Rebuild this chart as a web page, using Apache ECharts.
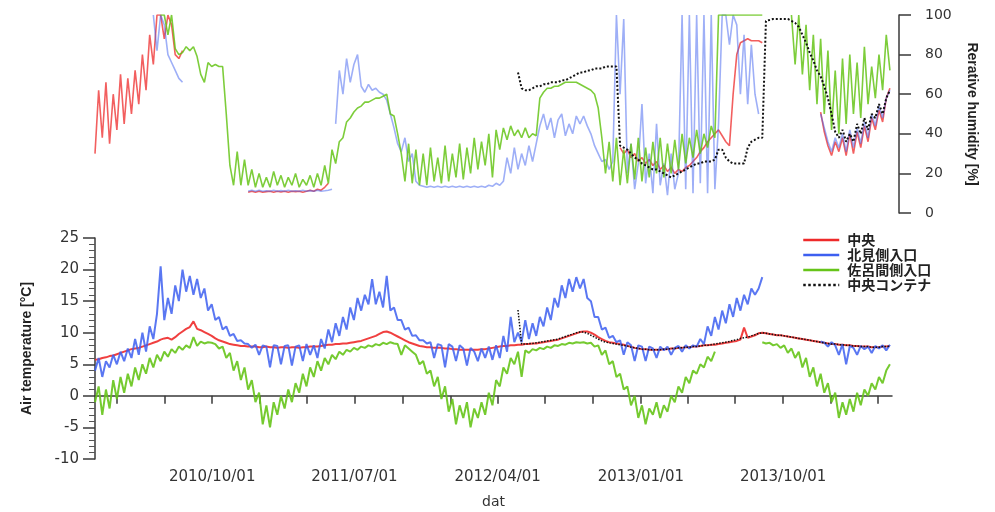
<!DOCTYPE html>
<html>
<head>
<meta charset="utf-8">
<title>Air temperature and relative humidity</title>
<script src="https://cdn.jsdelivr.net/npm/echarts@6.0.0/dist/echarts.min.js"></script>
<style>
html, body { margin: 0; padding: 0; background: #fff; }
#main { width: 995px; height: 512px; }
</style>
</head>
<body>
<div id="main"></div>
<script>
// weekly readings, week 0 = 2010/02/18
var startDate = '2010-02-18';
var endDate = '2014-04-28';
var tickDates = ['2010-04-01', '2010-07-01', '2010-10-01', '2011-01-01', '2011-04-01', '2011-07-01',
	'2011-10-01', '2012-01-01', '2012-04-01', '2012-07-01', '2012-10-01', '2013-01-01', '2013-04-01',
	'2013-07-01', '2013-10-01', '2014-01-01', '2014-04-01'];
var labelDates = ['2010-10-01', '2011-07-01', '2012-04-01', '2013-01-01', '2013-10-01'];
var names = ['中央', '北見側入口', '佐呂間側入口', '中央コンテナ'];

// air temperature [°C]
var tempRed = [ // weeks 0-218
	5.7, 5.8, 6.0, 6.1, 6.3, 6.4, 6.6, 6.8, 7.0, 7.2, 7.4, 7.5, 7.6,
	7.8, 8.0, 8.2, 8.4, 8.6, 8.9, 9.1, 9.2, 8.9, 9.3, 9.8, 10.2, 10.6,
	10.9, 11.8, 10.6, 10.4, 10.1, 9.8, 9.5, 9.1, 8.8, 8.6, 8.4, 8.2, 8.1,
	8.0, 7.9, 7.9, 7.8, 7.8, 7.8, 7.7, 7.7, 7.8, 7.7, 7.7, 7.6, 7.7,
	7.7, 7.6, 7.7, 7.7, 7.6, 7.7, 7.7, 7.8, 7.8, 7.8, 7.9, 8.0, 8.1,
	8.1, 8.2, 8.2, 8.3, 8.3, 8.4, 8.5, 8.6, 8.7, 8.9, 9.1, 9.3, 9.5,
	9.8, 10.1, 10.2, 10.0, 9.7, 9.4, 9.1, 8.8, 8.5, 8.3, 8.1, 7.9, 7.8,
	7.7, 7.7, 7.6, 7.6, 7.6, 7.5, 7.5, 7.4, 7.4, 7.3, 7.3, 7.3, 7.3,
	7.3, 7.3, 7.4, 7.4, 7.5, 7.6, 7.7, 7.8, 7.9, 7.9, 8.0, 8.0, 8.1,
	8.1, 8.2, 8.2, 8.3, 8.3, 8.4, 8.5, 8.6, 8.7, 8.8, 8.9, 9.1, 9.3,
	9.5, 9.7, 9.9, 10.1, 10.2, 10.2, 10.0, 9.7, 9.3, 9.0, 8.7, 8.5, 8.4,
	8.3, 8.2, 8.1, 7.9, 7.8, 7.6, 7.5, 7.4, 7.4, 7.3, 7.3, 7.3, 7.3,
	7.4, 7.4, 7.5, 7.5, 7.6, 7.6, 7.7, 7.7, 7.8, 7.8, 7.9, 8.0, 8.0,
	8.1, 8.1, 8.2, 8.3, 8.4, 8.5, 8.6, 8.7, 8.9, 10.8, 9.2, 9.4, 9.6,
	9.9, 10.0, 9.9, 9.8, 9.7, 9.6, 9.6, 9.5, 9.4, 9.3, 9.2, 9.1, 9.0,
	8.9, 8.8, 8.7, 8.6, 8.5, 8.4, 8.3, 8.2, 8.2, 8.1, 8.1, 8.0, 8.0,
	7.9, 7.9, 7.8, 7.8, 7.8, 7.7, 7.7, 7.7, 7.8, 7.8, 7.9
];
var tempBlue = [ // weeks 0-183
	4.0, 6.0, 3.0, 5.5, 4.5, 6.5, 5.0, 7.0, 5.5, 7.5, 6.0, 9.0, 6.5,
	10.0, 7.0, 11.0, 9.0, 13.0, 20.5, 12.0, 15.5, 13.0, 17.5, 15.0, 20.0, 16.5,
	19.0, 16.0, 18.5, 15.5, 17.0, 13.5, 14.5, 12.0, 12.5, 10.5, 11.0, 9.5, 9.8,
	8.7, 8.8, 8.3, 8.2, 7.6, 8.1, 6.5, 8.0, 7.8, 4.5, 8.0, 7.9, 5.0,
	7.9, 8.0, 4.8, 7.8, 8.0, 5.5, 8.2, 6.5, 8.0, 6.0, 9.0, 7.5, 10.5,
	8.5, 11.5, 9.5, 12.5, 10.5, 14.0, 12.0, 15.5, 13.5, 16.0, 14.5, 18.5, 14.5,
	16.5, 14.0, 19.0, 13.5, 14.0, 12.0, 12.0, 10.5, 10.8, 9.5, 9.6, 8.8, 8.8,
	8.3, 8.5, 6.0, 8.2, 8.0, 4.5, 8.2, 7.8, 5.5, 8.0, 7.5, 4.8, 7.6,
	7.0, 5.5, 7.5, 6.0, 7.8, 5.7, 8.0, 6.0, 9.5, 7.0, 12.5, 8.5, 10.0,
	8.5, 12.0, 9.0, 11.5, 9.5, 12.5, 11.0, 14.0, 12.0, 15.5, 14.0, 17.5, 15.5,
	18.5, 16.5, 18.8, 17.0, 18.5, 15.5, 15.0, 12.5, 12.5, 10.5, 10.8, 9.2, 9.5,
	8.5, 8.8, 6.5, 8.5, 8.0, 5.5, 8.0, 7.8, 5.5, 7.8, 7.5, 6.0, 7.8,
	7.2, 7.8, 6.5, 7.6, 7.9, 7.0, 8.0, 7.5, 8.0, 7.8, 9.0, 8.2, 11.0,
	9.5, 12.5, 10.5, 13.5, 11.5, 14.5, 12.5, 15.5, 13.5, 16.0, 14.5, 17.0, 16.0,
	17.0, 18.8
];
var tempBlue2 = [ // weeks 199-218
	8.6, 8.4, 7.8, 8.5, 8.0, 6.5, 8.2, 5.0, 7.9, 7.6, 6.5, 7.9, 7.4, 7.8, 6.8, 7.9, 7.5, 8.0, 7.2, 8.1
];
var tempGreen = [ // weeks 0-170
	-1.0, 1.5, -3.0, 1.0, -2.0, 2.5, -0.5, 3.0, 0.5, 3.5, 1.5, 4.5, 2.5,
	5.0, 3.5, 6.0, 4.5, 6.5, 5.5, 7.0, 6.2, 7.4, 6.8, 7.8, 7.3, 8.0,
	7.6, 9.3, 7.9, 8.6, 8.3, 8.5, 8.4, 8.2, 7.5, 7.8, 6.0, 6.8, 4.0,
	5.5, 2.5, 4.5, 1.0, 2.5, -1.0, 0.5, -4.5, -1.5, -5.0, -1.0, -3.0, 0.0,
	-2.0, 1.0, -1.0, 2.0, 0.5, 3.5, 1.5, 4.5, 3.0, 5.5, 4.0, 6.0, 5.0,
	6.5, 5.8, 7.0, 6.5, 7.3, 7.0, 7.6, 7.3, 7.8, 7.6, 8.0, 7.8, 8.2,
	8.0, 8.4, 8.2, 8.5, 8.3, 8.2, 6.5, 8.0, 7.5, 7.0, 6.5, 5.0, 5.5,
	3.5, 4.0, 1.5, 3.0, -0.5, 1.5, -2.5, -0.5, -4.5, -1.5, -3.5, -1.0, -5.0,
	-2.0, -3.5, -1.0, -3.0, 0.5, -1.5, 2.5, 1.5, 4.5, 3.5, 6.0, 5.0, 7.0,
	3.0, 7.2, 6.8, 7.4, 7.2, 7.6, 7.4, 7.8, 7.6, 8.0, 7.9, 8.2, 8.1,
	8.4, 8.3, 8.5, 8.4, 8.5, 8.3, 8.4, 7.8, 8.0, 6.5, 7.2, 5.0, 5.5,
	3.0, 3.5, 1.0, 1.5, -1.5, 0.0, -3.5, -1.5, -4.5, -2.0, -3.0, -1.0, -3.5,
	-1.5, -2.5, 0.0, -1.0, 1.5, 0.5, 3.0, 2.0, 4.0, 3.5, 5.0, 4.5, 6.2,
	5.5, 7.0
];
var tempGreen2 = [ // weeks 183-218
	8.5, 8.3, 8.4, 8.0, 8.2, 7.6, 8.0, 6.8, 7.5, 6.0, 7.0, 4.5, 6.0, 3.0, 4.5, 1.5, 3.5, 0.5,
	2.0, -1.0, 0.5, -3.5, -1.0, -3.0, -0.5, -2.5, 0.5, -1.5, 1.0, 0.0, 2.0, 1.0, 3.0, 2.0, 4.0, 5.0
];
var tempBlack = [ // weeks 116-218
	13.6, 8.2, 8.2, 8.3, 8.3, 8.4, 8.5, 8.6, 8.7, 8.8, 8.9, 9.0, 9.2,
	9.4, 9.6, 9.8, 10.0, 10.1, 10.1, 9.9, 9.6, 9.3, 9.0, 8.7, 8.5, 8.4,
	8.3, 8.2, 8.1, 8.0, 7.9, 7.7, 7.6, 7.5, 7.4, 7.4, 7.3, 7.3, 7.3,
	7.3, 7.4, 7.4, 7.5, 7.5, 7.6, 7.6, 7.7, 7.7, 7.8, 7.8, 7.9, 8.0,
	8.0, 8.1, 8.2, 8.3, 8.4, 8.5, 8.6, 8.8, 8.9, 9.1, 9.2, 9.3, 9.5,
	9.7, 9.9, 10.0, 9.9, 9.8, 9.7, 9.6, 9.6, 9.5, 9.4, 9.3, 9.2, 9.1,
	9.0, 8.9, 8.8, 8.7, 8.6, 8.5, 8.4, 8.3, 8.2, 8.2, 8.1, 8.1, 8.0,
	8.0, 7.9, 7.9, 7.8, 7.8, 7.8, 7.7, 7.7, 7.7, 7.8, 7.8, 7.9
];

// relative humidity [%]
var rhRed = [ // weeks 0-24
	30, 62, 38, 66, 35, 60, 42, 70, 45, 68, 50, 72, 55, 80, 62, 90, 75, 100, 100, 88, 100, 95, 80, 78, 82
];
var rhRed2 = [ // weeks 42-64
	10.5, 11, 10.5, 11, 10.5, 10.8, 11, 10.5, 11, 10.6, 11, 10.5, 11, 10.8, 11, 10.5, 11, 11.5, 11, 12, 11.5, 13, 15
];
var rhRed3 = [ // weeks 144-183
	33, 30, 32, 28, 30, 26, 28, 25, 27, 24, 26, 22, 24, 21, 23, 20, 22, 21, 23, 24,
	26, 28, 31, 33, 36, 38, 40, 42, 39, 36, 34, 60, 80, 86, 87, 88, 87, 87, 87, 86
];
var rhRed4 = [ // weeks 199-218
	51, 41, 34, 29, 36, 31, 38, 29, 40, 30, 41, 33, 44, 36, 48, 42, 52, 46, 58, 63
];
var rhBlue = [ // weeks 16-24
	100, 82, 100, 95, 80, 76, 72, 68, 66
];
var rhBlue2 = [ // weeks 42-65
	11, 11.5, 11, 11.5, 11, 11.2, 11, 11.5, 11, 11.3, 11, 11.5, 11, 11.2, 11, 11.5, 11, 11.3, 11, 11.5, 11, 11.2, 11.5, 12
];
var rhBlue3 = [ // weeks 66-182
	45, 72, 60, 78, 66, 75, 80, 64, 61, 65, 62, 63, 61,
	60, 57, 50, 43, 35, 31, 38, 26, 30, 16, 14, 13.5, 13,
	13.5, 13, 13.5, 13, 13.5, 13, 13.5, 13, 13.5, 13, 13.5, 13, 13.5,
	13, 13.5, 13, 14, 13.5, 15, 14, 16, 28, 20, 33, 22, 30,
	24, 34, 26, 35, 44, 50, 42, 48, 38, 47, 50, 39, 45,
	40, 49, 45, 49, 44, 40, 34, 30, 26, 27, 22, 26, 100,
	60, 98, 20, 35, 12, 25, 55, 15, 30, 10, 45, 14, 25,
	9, 30, 12, 20, 100, 12, 100, 10, 100, 15, 100, 10, 100,
	12, 45, 100, 100, 85, 100, 95, 60, 90, 55, 85, 60, 50
];
var rhBlue4 = [ // weeks 199-218
	50, 43, 36, 31, 38, 33, 40, 31, 42, 33, 43, 35, 46, 38, 50, 44, 54, 48, 58, 62
];
var rhGreen = [ // weeks 18-183
	100, 100, 90, 100, 83, 80, 81, 84, 82, 84, 79, 70, 66,
	76, 74, 75, 74, 74, 50, 24, 14, 31, 14, 27, 14, 22,
	13, 20, 13, 18, 13, 21, 14, 19, 13, 18, 14, 20, 13,
	17, 14, 19, 13, 20, 14, 24, 15, 32, 25, 36, 38, 46,
	48, 51, 53, 54, 56, 56, 57, 58, 58, 59, 60, 50, 49,
	40, 30, 16, 35, 15, 32, 14, 30, 14, 33, 16, 28, 15,
	34, 16, 30, 18, 35, 17, 33, 20, 38, 22, 36, 24, 40,
	18, 42, 32, 43, 37, 44, 39, 42, 38, 43, 38, 40, 39,
	58, 61, 63, 63, 64, 64, 65, 66, 66, 66, 66, 65, 64,
	63, 62, 60, 53, 38, 20, 36, 16, 38, 14, 32, 15, 35,
	17, 38, 16, 33, 18, 36, 20, 38, 18, 35, 20, 37, 22,
	40, 25, 38, 28, 42, 30, 40, 33, 44, 38, 100, 100, 100,
	100, 100, 100, 100, 100, 100, 100, 100, 100, 100
];
var rhGreen2 = [ // weeks 191-218
	100, 75, 100, 70, 95, 62, 90, 55, 88, 50, 82, 42, 72, 40,
	78, 45, 80, 50, 76, 48, 84, 55, 74, 58, 80, 62, 90, 72
];
var rhBlack = [ // weeks 116-218
	71, 63, 62, 62, 63, 64, 64, 65, 65, 66, 66, 66, 67,
	67, 68, 69, 70, 71, 71, 72, 72, 73, 73, 73, 74, 74,
	74, 74, 34, 33, 32, 30, 28, 27, 25, 24, 23, 22, 22,
	21, 20, 19, 18, 19, 20, 21, 22, 23, 24, 25, 25, 26,
	26, 26, 27, 32, 32, 28, 26, 25, 25, 25, 25, 33, 36,
	37, 38, 38, 97, 97.5, 98, 98, 98, 98, 98, 97, 96, 94,
	90, 86, 81, 77, 72, 69, 64, 58, 50, 41, 38, 42, 36,
	40, 36, 45, 40, 48, 42, 50, 48, 55, 50, 58, 62
];

var DAY = 86400000;
function toTime(s) {
	return new Date(s + 'T00:00:00Z').getTime();
}
var t0 = toTime(startDate);

// parts: [[firstWeek, values], ...]; a '-' point breaks the line between parts
function weekly(parts) {
	var out = [];
	parts.forEach(function(p, k) {
		if (k > 0) {
			out.push([t0 + (p[0] - 0.5) * 7 * DAY, '-']);
		}
		p[1].forEach(function(v, i) {
			out.push([t0 + (p[0] + i) * 7 * DAY, v]);
		});
	});
	return out;
}

function fmtDate(v) {
	var d = new Date(v);
	var m = d.getUTCMonth() + 1;
	var dd = d.getUTCDate();
	return d.getUTCFullYear() + '/' + (m < 10 ? '0' : '') + m + '/' + (dd < 10 ? '0' : '') + dd;
}

var colors = ['#ee2a2a', '#3d5ff0', '#66c419', '#111111'];
var textColor = '#333';
var fontEn = 'DejaVu Sans';
var axisColor = '#3a3a3a';

function line(name, idx, axis, data, opacity, width, type) {
	return {
		name: name,
		type: 'line',
		xAxisIndex: axis,
		yAxisIndex: axis,
		data: data,
		showSymbol: false,
		symbol: 'none',
		connectNulls: false,
		z: 2 + idx,
		color: colors[idx],
		lineStyle: {
			color: colors[idx],
			width: width,
			opacity: opacity,
			type: type || 'solid'
		}
	};
}

var chart = echarts.init(document.getElementById('main'));

var option = {
	animation: false,
	backgroundColor: '#fff',
	grid: [
		{ left: 95, right: 103, top: 15, height: 198 },
		{ left: 95, right: 103, top: 238, height: 221 }
	],
	legend: {
		orient: 'vertical',
		left: 797,
		top: 228,
		itemGap: 1,
		itemWidth: 36,
		itemHeight: 14,
		data: names,
		itemStyle: { opacity: 0, borderWidth: 0 },
		lineStyle: { width: 2.5, opacity: 1 },
		textStyle: {
			fontFamily: 'Noto Sans CJK JP',
			fontSize: 14,
			lineHeight: 14,
			fontWeight: 'bold',
			color: '#222',
			padding: [0, 0, 0, 3]
		}
	},
	xAxis: [
		{
			type: 'value',
			gridIndex: 0,
			min: toTime(startDate),
			max: toTime(endDate),
			show: false
		},
		{
			type: 'value',
			gridIndex: 1,
			min: toTime(startDate),
			max: toTime(endDate),
			name: 'dat',
			nameLocation: 'middle',
			nameGap: 36,
			nameTextStyle: { fontFamily: fontEn, fontSize: 14, color: textColor },
			axisLine: { show: true, lineStyle: { color: axisColor, width: 1.5 } },
			axisTick: {
				show: true,
				length: 8,
				lineStyle: { color: axisColor, width: 1.5 },
				customValues: tickDates.map(toTime)
			},
			axisLabel: {
				customValues: labelDates.map(toTime),
				formatter: fmtDate,
				margin: 11,
				fontFamily: fontEn,
				fontSize: 15,
				color: textColor
			},
			splitLine: { show: false }
		}
	],
	yAxis: [
		{
			type: 'value',
			gridIndex: 0,
			position: 'right',
			offset: 7,
			min: 0,
			max: 100,
			interval: 20,
			name: 'Rerative humidity [%]',
			nameLocation: 'middle',
			nameRotate: -90,
			nameGap: 66,
			nameTextStyle: { fontFamily: 'Liberation Sans', fontSize: 14, fontWeight: 'bold', color: '#222' },
			axisLine: { show: true, lineStyle: { color: axisColor, width: 1.5 } },
			axisTick: { show: true, length: 12, lineStyle: { color: axisColor, width: 1.5 } },
			axisLabel: { fontFamily: fontEn, fontSize: 14, color: textColor, margin: 26 },
			splitLine: { show: false }
		},
		{
			type: 'value',
			gridIndex: 1,
			position: 'left',
			min: -10,
			max: 25,
			interval: 5,
			name: 'Air temperature [°C]',
			nameLocation: 'middle',
			nameRotate: 90,
			nameGap: 61,
			nameTextStyle: { fontFamily: 'Liberation Sans', fontSize: 14, fontWeight: 'bold', color: '#222' },
			axisLine: { show: true, lineStyle: { color: axisColor, width: 1.5 } },
			axisTick: { show: true, length: 12, lineStyle: { color: axisColor, width: 1.5 } },
			minorTick: { show: true, splitNumber: 5, length: 6, lineStyle: { color: '#555' } },
			axisLabel: { fontFamily: fontEn, fontSize: 15, color: textColor, margin: 16 },
			splitLine: { show: false }
		}
	],
	series: [
		line(names[0], 0, 0, weekly([[0, rhRed], [42, rhRed2], [144, rhRed3], [199, rhRed4]]), 0.75, 1.6),
		line(names[1], 1, 0, weekly([[16, rhBlue], [42, rhBlue2], [66, rhBlue3], [199, rhBlue4]]), 0.5, 1.6),
		line(names[2], 2, 0, weekly([[18, rhGreen], [191, rhGreen2]]), 0.85, 1.6),
		line(names[3], 3, 0, weekly([[116, rhBlack]]), 1, 2, 'dotted'),
		line(names[0], 0, 1, weekly([[0, tempRed]]), 0.9, 2),
		line(names[1], 1, 1, weekly([[0, tempBlue], [199, tempBlue2]]), 0.85, 2),
		line(names[2], 2, 1, weekly([[0, tempGreen], [183, tempGreen2]]), 0.9, 2),
		line(names[3], 3, 1, weekly([[116, tempBlack]]), 1, 1.5, 'dotted')
	]
};

chart.setOption(option);
</script>
</body>
</html>
